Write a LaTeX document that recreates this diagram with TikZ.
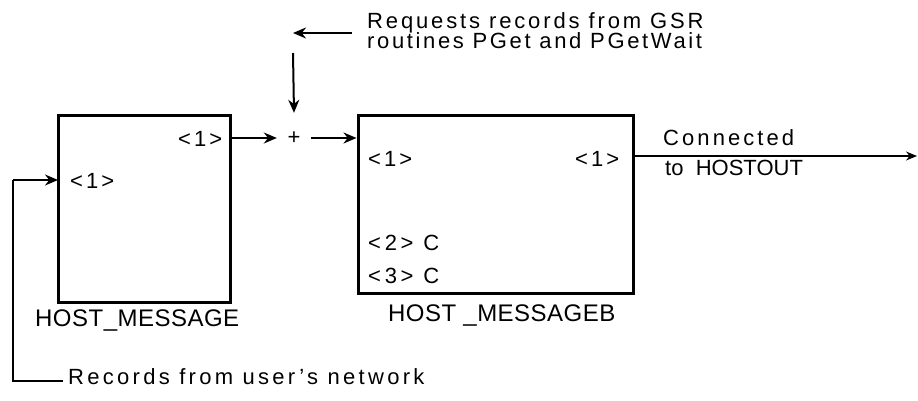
\documentclass[tikz,border=0pt]{standalone}
\usepackage{fontspec}
\setmainfont{Liberation Sans}
\usetikzlibrary{arrows.meta}
\begin{document}
\begin{tikzpicture}[x=1pt,y=-1pt,
  every node/.style={inner sep=0pt},
  txt/.style={font=\fontsize{22}{20}\selectfont\addfontfeature{LetterSpace=#1}},
  txt/.default=14,
  big/.style={font=\fontsize{24}{24}\selectfont\addfontfeature{LetterSpace=#1}},
  big/.default=2,
  blk/.style={draw, line width=3pt, minimum width=#1, inner sep=0pt},
  arr/.style={line width=2pt, -{Stealth[length=13pt,width=11pt]}},
  thinarr/.style={line width=1.3pt, -{Stealth[length=11pt,width=9pt]}}]
\useasboundingbox (0,0) rectangle (918,400);
% boxes
\node[blk=172pt, minimum height=187pt] (box1) at (144,208.5) {};
\node[blk=275pt, minimum height=178pt] (box2) at (495.5,204) {};
% port labels
\node[txt, anchor=base west] (p1o) at (178,146) {<1>};
\node[txt, anchor=base west] (p1i) at (70,188) {<1>};
\node[txt, anchor=base west] (p2i) at (368,166) {<1>};
\node[txt, anchor=base west] (p2o) at (575,166) {<1>};
\node[txt=17, anchor=base west] (p2c) at (368,250) {<2> C};
\node[txt=17, anchor=base west] (p3c) at (368,283) {<3> C};
% box names
\node[big, anchor=base west] (n1) at (35,326) {HOST\_MESSAGE};
\node[big, anchor=base west] (n2) at (388,321) {HOST \_MESSAGEB};
% plus junction
\node[txt, minimum width=34pt, minimum height=50pt] (plus) at (294,138) {+};
\coordinate (reqa) at (293,33);
\coordinate (reqb) at (293,53);
\node[txt=13, anchor=base west] (req) at (367,28) {Requests records from GSR};
\node[txt=12, anchor=base west] (req2) at (367,48) {routines PGet and PGetWait};
\draw[arr] (req.west |- reqa) ++(-15,0) -- (reqa);
\draw[arr] (reqb) -- (plus.north);
\draw[arr] (box1.east |- plus) -- (plus.west);
\draw[arr] (plus.east) -- (box2.west |- plus);
% output
\coordinate (out) at (917,156);
\draw[thinarr] (box2.east |- out) -- (out);
\node[txt=14, anchor=base west] (con) at (663,145) {Connected};
\node[txt=0, anchor=base west] (hout) at (665,175) {to \ HOSTOUT};
% input from user's network
\node[txt=15, anchor=base west] (rec) at (68,384) {Records from user's network};
\coordinate (c1) at (13,381);
\coordinate (in1) at (58,180);
\draw[line width=1.6pt] (rec.west |- c1) ++(-5,0) coordinate (recl) -- (c1) -- (c1 |- in1);
\draw[arr] (c1 |- in1) -- (in1);
\end{tikzpicture}
\end{document}
